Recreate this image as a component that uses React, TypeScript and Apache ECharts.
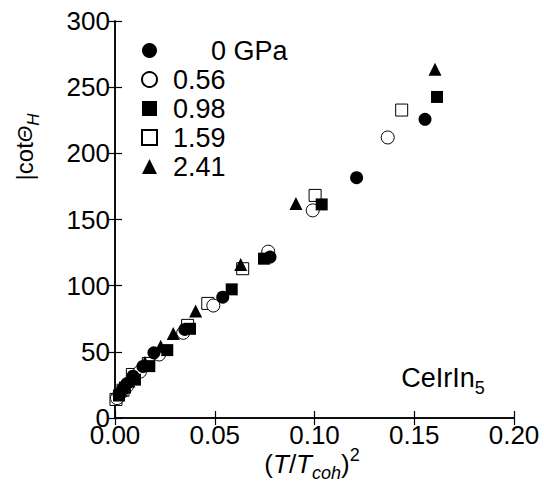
import React, { useEffect, useRef } from "react";
import * as echarts from "echarts";

const FONT = "Liberation Sans";

const seriesNames = ["0 GPa", "0.56", "0.98", "1.59", "2.41"];

const gpa000: number[][] = [
  [0.002, 18], [0.004, 22], [0.006, 26], [0.009, 31.6], [0.014, 39], [0.0195, 49.3],
  [0.035, 66.9], [0.054, 91.3], [0.0777, 121.6], [0.1211, 181.6], [0.1554, 225.7],
];
const gpa056: number[][] = [
  [0.001, 15], [0.003, 19], [0.006, 24], [0.0125, 35], [0.0221, 48], [0.0342, 64.4],
  [0.0493, 85], [0.0768, 125.7], [0.0991, 156.9], [0.1367, 212],
];
const gpa098: number[][] = [
  [0.002, 17], [0.005, 23], [0.01, 29], [0.0172, 39.2], [0.0262, 51.3], [0.0376, 67.4],
  [0.0585, 97.2], [0.0747, 120.4], [0.1036, 161.4], [0.1614, 242.6],
];
const gpa159: number[][] = [
  [0.0005, 14], [0.004, 21], [0.0087, 32.9], [0.0167, 41.2], [0.0364, 70], [0.0465, 86.6],
  [0.064, 112.8], [0.1003, 168.2], [0.1437, 232.7],
];
const gpa241: number[][] = [
  [0.003, 21], [0.007, 28], [0.015, 42], [0.0229, 54.3], [0.0292, 63.9], [0.0404, 80.8],
  [0.063, 116], [0.0907, 162], [0.1604, 263.5],
];

const xMin = 0, xMax = 0.2, xStep = 0.05;
const yMin = 0, yMax = 300, yStep = 50;

export default function App() {
  const ref = useRef<HTMLDivElement>(null);
  useEffect(() => {
    if (!ref.current) return;
    const chart = echarts.init(ref.current, undefined, { renderer: "svg" });
    const axisLine = { show: true, lineStyle: { color: "#000", width: 1.5 } };
    const tick = { show: true, inside: true, length: 7, lineStyle: { color: "#000", width: 1.2 } };
    const label = { color: "#000", fontSize: 26, fontFamily: FONT, lineHeight: 20 };
    const mk = (name: string, data: number[][], symbol: string, size: number, filled: boolean) => ({
      name,
      type: "scatter",
      data,
      symbol,
      symbolSize: size,
      itemStyle: {
        color: filled ? "#000" : "#fff",
        borderColor: "#000",
        borderWidth: filled ? 0 : 1,
        opacity: 1,
      },
    });
    const legendRich = {
      a: { fontSize: 27, fontFamily: FONT, color: "#000", padding: [0, 0, 0, 11], lineHeight: 26 },
      g: { fontSize: 27, fontFamily: FONT, color: "#000", padding: [0, 0, 0, 49], lineHeight: 26 },
    };
    chart.setOption({
      animation: false,
      backgroundColor: "#fff",
      grid: { left: 115, right: 30, top: 21, bottom: 65, containLabel: false },
      xAxis: [
        {
          type: "value", min: xMin, max: xMax, interval: xStep, position: "bottom",
          axisLine, axisTick: tick, splitLine: { show: false },
          axisLabel: { ...label, margin: 7, formatter: (v: number) => v.toFixed(2) },
        },
        {
          type: "value", min: xMin, max: xMax, interval: xStep, position: "top",
          axisLine, axisTick: tick, splitLine: { show: false }, axisLabel: { show: false },
        },
      ],
      yAxis: [
        {
          type: "value", min: yMin, max: yMax, interval: yStep, position: "left",
          axisLine, axisTick: tick, splitLine: { show: false },
          axisLabel: { ...label, margin: 5, padding: [0, 0, 6, 0] },
        },
        {
          type: "value", min: yMin, max: yMax, interval: yStep, position: "right",
          axisLine, axisTick: tick, splitLine: { show: false }, axisLabel: { show: false },
        },
      ],
      legend: {
        orient: "vertical",
        left: 141,
        top: 37,
        padding: 0,
        itemWidth: 15,
        itemHeight: 15,
        itemGap: 2,
        data: seriesNames,
        formatter: (n: string) => (n === "0 GPa" ? `{g|${n}}` : `{a|${n}}`),
        textStyle: { fontSize: 27, fontFamily: FONT, color: "#000", rich: legendRich },
      },
      series: [
        mk(seriesNames[3], gpa159, "rect", 12, false),
        mk(seriesNames[1], gpa056, "circle", 13, false),
        mk(seriesNames[2], gpa098, "rect", 12, true),
        mk(seriesNames[0], gpa000, "circle", 13, true),
        mk(seriesNames[4], gpa241, "triangle", 13, true),
      ],
      graphic: [
        {
          type: "text",
          x: 312,
          y: 464,
          style: {
            text: "{n|(}{i|T}{n|/}{i|T}{sub|coh}{n|)}{sup|2}",
            align: "center",
            verticalAlign: "middle",
            rich: {
              n: { fontSize: 26, fontFamily: FONT, fill: "#000", lineHeight: 36, verticalAlign: "middle" },
              i: { fontSize: 26, fontFamily: FONT, fontStyle: "italic", fill: "#000", lineHeight: 36, verticalAlign: "middle" },
              sub: { fontSize: 18, fontFamily: FONT, fontStyle: "italic", fill: "#000", lineHeight: 18, verticalAlign: "bottom" },
              sup: { fontSize: 18, fontFamily: FONT, fill: "#000", lineHeight: 18, verticalAlign: "top" },
            },
          },
        },
        {
          type: "text",
          x: 24,
          y: 147,
          rotation: Math.PI / 2,
          style: {
            text: "{n||cot}{i|Θ}{sub|H}",
            align: "center",
            verticalAlign: "middle",
            rich: {
              n: { fontSize: 24, fontFamily: FONT, fill: "#000", lineHeight: 36, verticalAlign: "middle" },
              i: { fontSize: 21, fontFamily: FONT, fontStyle: "italic", fill: "#000", lineHeight: 36, verticalAlign: "middle" },
              sub: { fontSize: 17, fontFamily: FONT, fontStyle: "italic", fill: "#000", lineHeight: 17, verticalAlign: "bottom" },
            },
          },
        },
        {
          type: "text",
          x: 443,
          y: 378,
          style: {
            text: "{n|CeIrIn}{sub|5}",
            align: "center",
            verticalAlign: "middle",
            rich: {
              n: { fontSize: 27, fontFamily: FONT, fill: "#000", lineHeight: 38, verticalAlign: "middle" },
              sub: { fontSize: 18, fontFamily: FONT, fill: "#000", lineHeight: 18, verticalAlign: "bottom" },
            },
          },
        },
      ],
    });
    return () => chart.dispose();
  }, []);
  return <div ref={ref} style={{ width: 544, height: 483, position: "absolute", left: 0, top: 0 }} />;
}
